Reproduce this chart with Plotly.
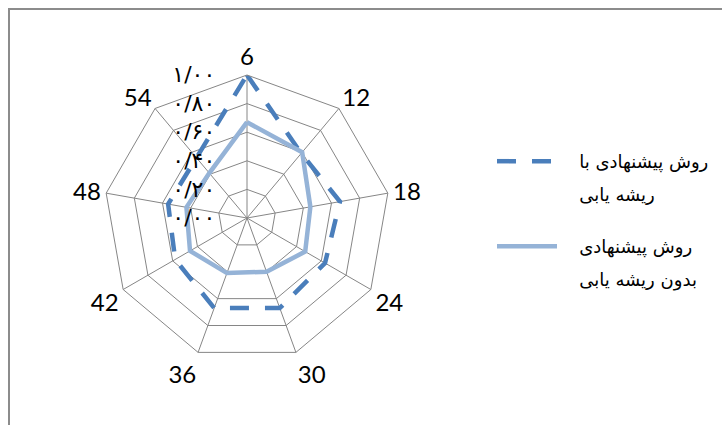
import plotly.graph_objects as go

categories = ["6", "12", "18", "24", "30", "36", "42", "48", "54"]
with_stemming = [1.00, 0.59, 0.66, 0.63, 0.67, 0.67, 0.58, 0.56, 0.55]
without_stemming = [0.67, 0.60, 0.45, 0.47, 0.40, 0.41, 0.46, 0.43, 0.41]
tick_values = [0.0, 0.2, 0.4, 0.6, 0.8, 1.0]
tick_labels = ["۰/۰۰", "۰/۲۰", "۰/۴۰", "۰/۶۰", "۰/۸۰", "۱/۰۰"]
# legend names, split over two lines each (first line, second line)
series1_name = ["روش پیشنهادی با", "ریشه یابی"]
series2_name = ["روش پیشنهادی", "بدون ریشه یابی"]

W, H = 722, 425
cx, cy, R = 247, 218, 143
NB = "\u00a0"
PAD = NB * 3

fig = go.Figure()
fig.add_trace(go.Scatterpolar(
    r=with_stemming + with_stemming[:1], theta=categories + categories[:1],
    mode="lines", name=PAD + series1_name[0], legend="legend", legendgroup="a1",
    line=dict(color="#4A7EBB", width=4.5, dash="19px,16px"),
))
fig.add_trace(go.Scatterpolar(
    r=[None], theta=[None], mode="lines", name=PAD + series1_name[1],
    legend="legend", legendgroup="a2", showlegend=True,
    line=dict(color="rgba(0,0,0,0)", width=0),
))
fig.add_trace(go.Scatterpolar(
    r=without_stemming + without_stemming[:1], theta=categories + categories[:1],
    mode="lines", name=PAD + series2_name[0], legend="legend2", legendgroup="b1",
    line=dict(color="#95B3D7", width=4.5),
))
fig.add_trace(go.Scatterpolar(
    r=[None], theta=[None], mode="lines", name=PAD + series2_name[1],
    legend="legend2", legendgroup="b2", showlegend=True,
    line=dict(color="rgba(0,0,0,0)", width=0),
))

legend_common = dict(
    xanchor="left", yanchor="top",
    font=dict(size=18, family="DejaVu Sans", color="black"),
    valign="top", itemwidth=60, tracegroupgap=6,
    bgcolor="rgba(0,0,0,0)", borderwidth=0,
    itemclick=False, itemdoubleclick=False,
)

fig.update_layout(
    width=W, height=H,
    margin=dict(l=0, r=0, t=0, b=0),
    paper_bgcolor="white",
    showlegend=True,
    font=dict(family="Lato, DejaVu Sans, sans-serif", color="black"),
    polar=dict(
        domain=dict(x=[(cx - R) / W, (cx + R) / W],
                    y=[(H - cy - R) / H, (H - cy + R) / H]),
        bgcolor="rgba(0,0,0,0)",
        gridshape="linear",
        angularaxis=dict(
            direction="clockwise", rotation=90, type="category",
            categoryarray=categories,
            showline=True, linecolor="#868686", linewidth=1,
            gridcolor="#868686", gridwidth=1,
            ticks="", tickfont=dict(size=24, color="black", family="Lato, DejaVu Sans"),
        ),
        radialaxis=dict(
            range=[0, 1], angle=90, tickangle=90,
            tickvals=tick_values, ticktext=[t + NB * 4 for t in tick_labels],
            showline=False, gridcolor="#868686", gridwidth=1,
            ticks="", side="counterclockwise",
            tickfont=dict(size=22, color="black", family="DejaVu Sans"),
        ),
    ),
    legend=dict(x=492 / W, y=1 - 143 / H, **legend_common),
    legend2=dict(x=492 / W, y=1 - 228 / H, **legend_common),
    shapes=[dict(type="rect", xref="paper", yref="paper",
                 x0=9 / W, x1=1.05, y0=-0.05, y1=1 - 9 / H,
                 line=dict(color="#8C8C8C", width=2))],
)

fig.write_html("out.html")
